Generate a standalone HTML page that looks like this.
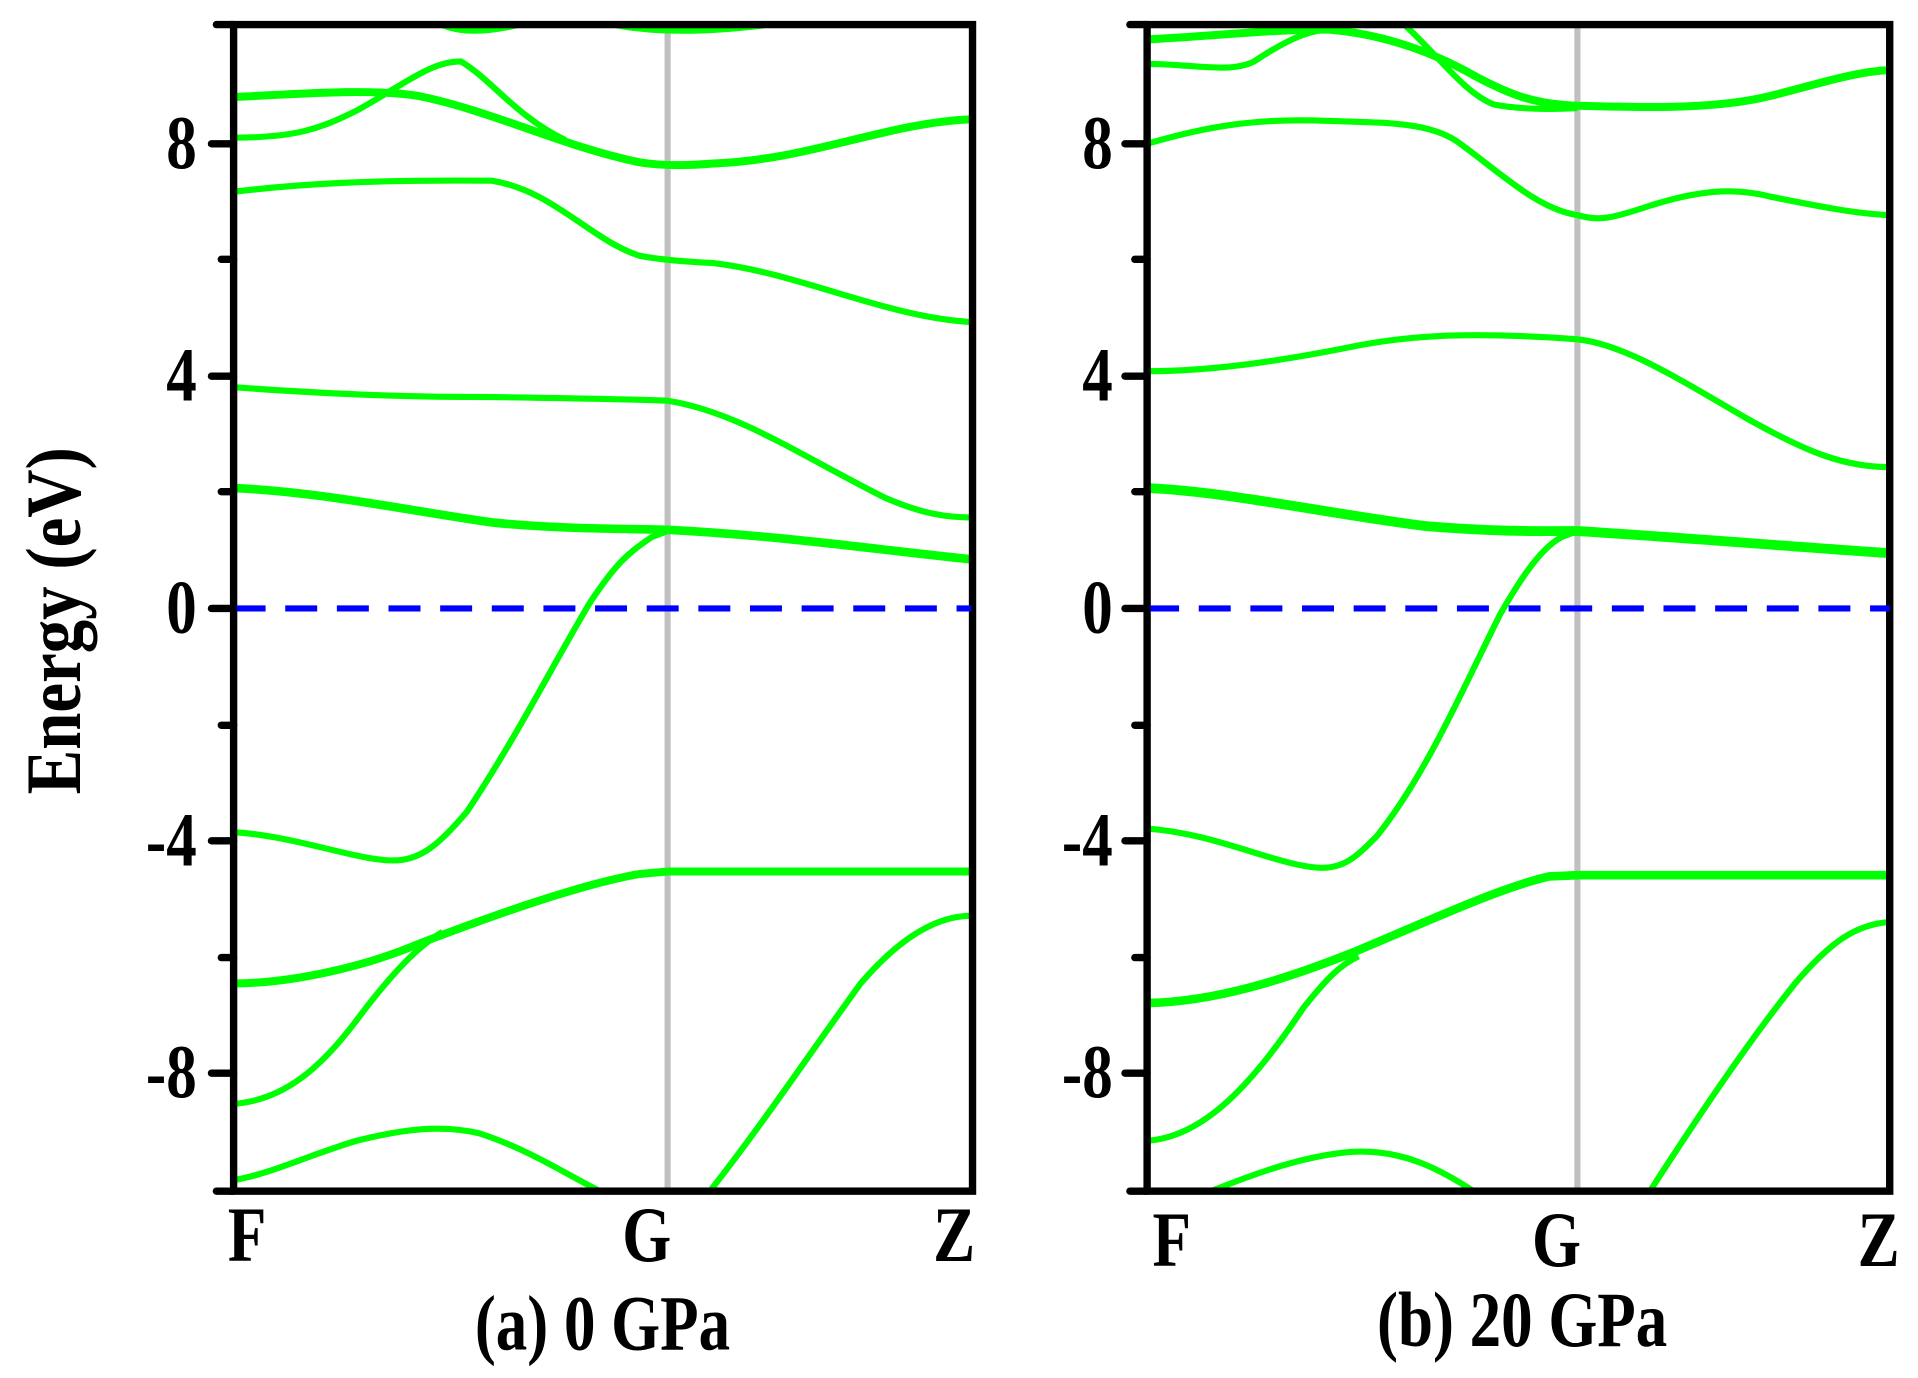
<!DOCTYPE html>
<html><head><meta charset="utf-8"><style>
html,body{margin:0;padding:0;background:#fff;}
svg{display:block;}
text{font-family:"Liberation Serif",serif;font-weight:bold;fill:#000;}
</style></head><body>
<svg width="1918" height="1378" viewBox="0 0 1560 1121" preserveAspectRatio="none" xmlns="http://www.w3.org/2000/svg">
<defs>
<clipPath id="ca"><rect x="190" y="22" width="600" height="945"/></clipPath>
<clipPath id="cb"><rect x="933" y="22" width="603" height="945"/></clipPath>
</defs>
<!-- Panel a -->
<line x1="543" y1="18" x2="543" y2="969" stroke="#c0c0c0" stroke-width="5"/>
<g clip-path="url(#ca)" fill="none" stroke="#00ff00" stroke-width="5" stroke-linejoin="round">
<path d="M355,18 Q380,32 430,18"/>
<path d="M490,18 Q545,32 640,18"/>
<path d="M190,79 C250,76 300,72 340,78 C400,90 460,120 520,132 Q545,136 580,133 C660,130 720,100 790,97" stroke-width="6.5"/>
<path d="M190,112 C240,112 260,105 290,90 C330,68 350,50 375,50 C400,65 420,95 460,114"/>
<path d="M190,156 C240,150 300,146 400,147 C450,155 480,195 520,208 Q540,212 580,214 C650,222 720,258 790,262"/>
<path d="M190,315 C260,320 320,323 400,323 C470,324 520,325 543,326 C600,335 650,370 720,405 C750,418 770,421 790,421"/>
<path d="M190,397 C260,400 330,415 400,425 C460,431 520,430 543,431 C640,436 720,448 790,455" stroke-width="7"/>
<path d="M190,677 C240,680 290,700 320,700 C340,700 355,690 380,660 C420,600 450,540 480,490 C500,460 510,450 530,437 L543,432"/>
<path d="M190,800 C240,800 300,785 340,768 C400,745 470,720 520,711 L543,709 L790,709" stroke-width="6.5"/>
<path d="M190,898 C230,895 260,870 290,830 C320,790 340,770 360,758"/>
<path d="M190,960 C220,955 250,940 290,928 C330,918 360,915 390,922 C430,935 460,955 490,970"/>
<path d="M575,972 C620,915 660,855 700,800 C730,765 760,745 790,745"/>
</g>
<rect x="190" y="20" width="601" height="949" fill="none" stroke="#000" stroke-width="6"/>
<line x1="190" y1="495" x2="790" y2="495" stroke="#0000ff" stroke-width="5" stroke-dasharray="26,16"/>
<!-- Panel b -->
<line x1="1283" y1="18" x2="1283" y2="969" stroke="#c0c0c0" stroke-width="5"/>
<g clip-path="url(#cb)" fill="none" stroke="#00ff00" stroke-width="5" stroke-linejoin="round">
<path d="M933,32 C980,30 1030,24 1080,24 C1130,28 1170,45 1200,62 C1230,78 1250,85 1283,86 C1350,88 1400,88 1440,78 C1480,68 1510,58 1537,57" stroke-width="6.5"/>
<path d="M933,52 C970,52 1000,60 1020,50 C1050,30 1070,22 1090,24"/>
<path d="M1140,18 C1170,45 1190,75 1215,85 Q1240,90 1283,88"/>
<path d="M933,117 C990,100 1030,97 1070,98 C1120,100 1160,98 1185,115 C1220,140 1250,170 1283,175 C1300,180 1310,178 1340,168 C1380,155 1410,152 1440,160 C1480,168 1510,174 1537,175"/>
<path d="M933,302 C990,302 1050,292 1100,282 C1150,272 1200,270 1283,276 C1320,280 1360,305 1420,340 C1470,368 1500,380 1537,380"/>
<path d="M933,397 C1000,400 1080,418 1160,428 C1220,433 1260,432 1283,432 C1380,438 1460,445 1537,450" stroke-width="8"/>
<path d="M933,674 C990,678 1040,705 1075,706 C1095,706 1105,695 1120,680 C1160,630 1190,560 1220,500 C1240,465 1255,445 1270,437 L1283,432"/>
<path d="M933,816 C990,815 1050,795 1100,775 C1160,750 1220,722 1260,713 L1283,712 L1537,712" stroke-width="7"/>
<path d="M933,928 C980,925 1020,880 1060,820 C1080,795 1090,785 1105,778"/>
<path d="M985,969 C1020,955 1060,940 1100,937 C1140,935 1170,950 1200,970"/>
<path d="M1340,972 C1380,910 1420,850 1460,800 C1490,765 1510,752 1537,750"/>
</g>
<rect x="933" y="20" width="604" height="949" fill="none" stroke="#000" stroke-width="6"/>
<line x1="933" y1="495" x2="1537" y2="495" stroke="#0000ff" stroke-width="5" stroke-dasharray="26,16"/>
<!-- Ticks -->
<g stroke="#000" stroke-width="6" stroke-linecap="round">
<line x1="176" y1="20" x2="190" y2="20"/><line x1="176" y1="969" x2="190" y2="969"/>
<line x1="172" y1="117" x2="190" y2="117"/><line x1="180" y1="211" x2="190" y2="211"/>
<line x1="172" y1="306" x2="190" y2="306"/><line x1="180" y1="400" x2="190" y2="400"/>
<line x1="172" y1="495" x2="190" y2="495"/><line x1="180" y1="590" x2="190" y2="590"/>
<line x1="172" y1="684" x2="190" y2="684"/><line x1="180" y1="779" x2="190" y2="779"/>
<line x1="172" y1="873" x2="190" y2="873"/>
<line x1="919" y1="20" x2="933" y2="20"/><line x1="919" y1="969" x2="933" y2="969"/>
<line x1="915" y1="117" x2="933" y2="117"/><line x1="923" y1="211" x2="933" y2="211"/>
<line x1="915" y1="306" x2="933" y2="306"/><line x1="923" y1="400" x2="933" y2="400"/>
<line x1="915" y1="495" x2="933" y2="495"/><line x1="923" y1="590" x2="933" y2="590"/>
<line x1="915" y1="684" x2="933" y2="684"/><line x1="923" y1="779" x2="933" y2="779"/>
<line x1="915" y1="873" x2="933" y2="873"/>
</g>
<g font-size="62" text-anchor="end">
<text transform="translate(160,137) scale(0.8,1)">8</text>
<text transform="translate(160,326) scale(0.8,1)">4</text>
<text transform="translate(160,515) scale(0.8,1)">0</text>
<text transform="translate(160,704) scale(0.8,1)">-4</text>
<text transform="translate(160,893) scale(0.8,1)">-8</text>
<text transform="translate(905,137) scale(0.8,1)">8</text>
<text transform="translate(905,326) scale(0.8,1)">4</text>
<text transform="translate(905,515) scale(0.8,1)">0</text>
<text transform="translate(905,704) scale(0.8,1)">-4</text>
<text transform="translate(905,893) scale(0.8,1)">-8</text>
</g>
<text transform="translate(65,505) rotate(-90) scale(0.85,1)" font-size="64" text-anchor="middle">Energy (eV)</text>
<g font-size="64" text-anchor="middle">
<text transform="translate(201,1026) scale(0.8,1)">F</text>
<text transform="translate(526,1026) scale(0.8,1)">G</text>
<text transform="translate(776,1026) scale(0.8,1)">Z</text>
<text transform="translate(953,1030) scale(0.8,1)">F</text>
<text transform="translate(1266,1030) scale(0.8,1)">G</text>
<text transform="translate(1528,1030) scale(0.8,1)">Z</text>
<text transform="translate(490,1098) scale(0.8,1)">(a) 0 GPa</text>
<text transform="translate(1238,1095) scale(0.8,1)">(b) 20 GPa</text>
</g>
</svg>
</body></html>
